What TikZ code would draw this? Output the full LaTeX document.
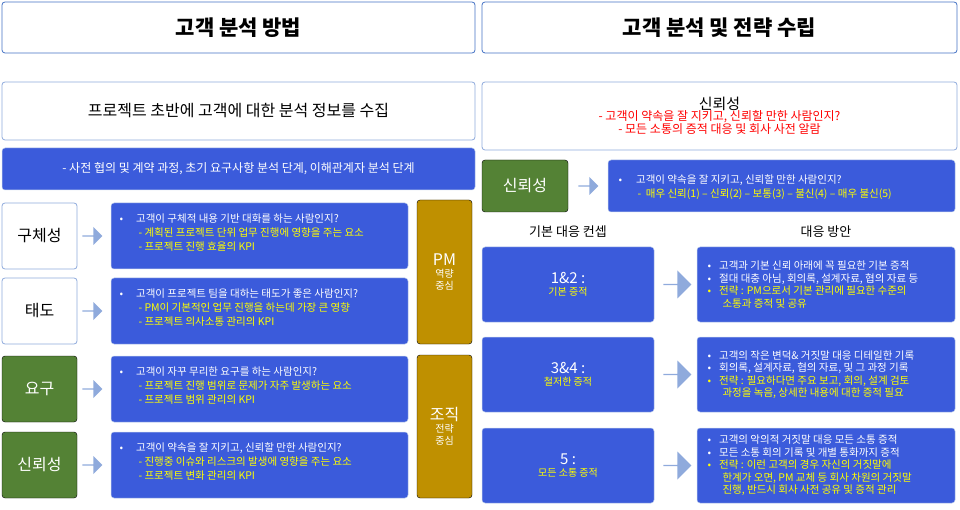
\documentclass[tikz,border=0pt]{standalone}
\usepackage{fontspec}
\setmainfont{Noto Sans CJK KR}
\usetikzlibrary{shapes.arrows}
\definecolor{bb}{HTML}{3B5BDB}
\definecolor{gg}{HTML}{548235}
\definecolor{au}{HTML}{BF9000}
\definecolor{ar}{HTML}{8FAADC}
\definecolor{yl}{HTML}{FFFF00}
\definecolor{hb}{HTML}{4472C4}
\tikzset{
 box/.style={rounded corners=3pt,inner sep=0pt},
 wbox/.style={box,draw=hb,line width=0.8pt,fill=white},
 lbox/.style={box,draw=ar,line width=0.8pt,fill=white},
 bbox/.style={box,fill=bb,draw=ar!60,line width=0.5pt},
 gbox/.style={box,fill=gg},
 abox/.style={box,fill=au},
 arr/.style={single arrow,fill=ar,minimum height=20pt,minimum width=18pt,single arrow head extend=3pt,inner sep=0pt},
 bigarr/.style={single arrow,fill=ar,minimum height=28pt,minimum width=28pt,single arrow head extend=5pt,inner sep=0pt},
 tx/.style={align=left,text=white,font=\fontsize{10.5}{13}\selectfont},
}
\newcommand{\lrow}[8]{%
 \draw[#3] (2,#1) rectangle (77,#1+66);
 \node[text=#4] (L#8) at (39.5,#1+33) {\fontsize{16}{19}\selectfont #2};
 \node[arr] (A#8) at (92,#1+33) {};
 \draw[bbox] (111,#1) rectangle (408,#1+66);
 \node[tx,anchor=north west] (B#8) at (116,#1+7) {•\hspace{13pt}#5\\[1pt]\hspace{19pt}\textcolor{yl}{#6}\\[1pt]\hspace{19pt}\textcolor{yl}{#7}};
}
\newcommand{\rrow}[5]{%
 \draw[bbox] (482,#1) rectangle (654,#1+75);
 \node[text=white,align=center] (K#5) at (568,#1+37.5) {\fontsize{15}{22}\selectfont #2\\\textcolor{yl}{#3}};
 \node[bigarr] (RA#5) at (677,#1+37.5) {};
 \draw[bbox] (697,#1) rectangle (955,#1+75);
 \node[tx,anchor=west,font=\fontsize{10.5}{12.5}\selectfont] (R#5) at (704,#1+37.5) {#4};
}
\newcommand{\bl}{•\hspace{8pt}}
\newcommand{\ys}[1]{\textcolor{yl}{#1}}
\begin{document}
\begin{tikzpicture}[x=1pt,y=-1pt]
\useasboundingbox (0,0) rectangle (960,510);
\draw[wbox] (2,2) rectangle (475,53);
\node (h1) at (238.5,27.5) {\fontsize{21}{24}\selectfont\bfseries 고객 분석 방법};
\draw[wbox] (482,2) rectangle (957,53);
\node (h2) at (719.5,27.5) {\fontsize{21}{24}\selectfont\bfseries 고객 분석 및 전략 수립};
\draw[lbox] (2,82) rectangle (475,140);
\node (s1) at (238.5,111) {\fontsize{16}{19}\selectfont 프로젝트 초반에 고객에 대한 분석 정보를 수집};
\draw[bbox] (2,148) rectangle (475,190);
\node[text=white] (s2) at (238.5,169) {\fontsize{12}{14}\selectfont - 사전 협의 및 계약 과정, 초기 요구사항 분석 단계, 이해관계자 분석 단계};
\lrow{203}{구체성}{lbox}{black}{고객이 구체적 내용 기반 대화를 하는 사람인지?}{- 계획된 프로젝트 단위 업무 진행에 영향을 주는 요소}{- 프로젝트 진행 효율의 KPI}{1}
\lrow{278}{태도}{lbox}{black}{고객이 프로젝트 팀을 대하는 태도가 좋은 사람인지?}{- PM이 기본적인 업무 진행을 하는데 가장 큰 영향}{- 프로젝트 의사소통 관리의 KPI}{2}
\lrow{356}{요구}{gbox}{white}{고객이 자꾸 무리한 요구를 하는 사람인지?}{- 프로젝트 진행 범위로 문제가 자주 발생하는 요소}{- 프로젝트 범위 관리의 KPI}{3}
\lrow{432}{신뢰성}{gbox}{white}{고객이 약속을 잘 지키고, 신뢰할 만한 사람인지?}{- 진행중 이슈와 리스크의 발생에 영향을 주는 요소}{- 프로젝트 변화 관리의 KPI}{4}
\draw[abox] (417,200) rectangle (472,344);
\node[text=white,align=center] (g1) at (444.5,272) {\fontsize{16}{21}\selectfont PM\\역량\\중심};
\draw[abox] (417,355) rectangle (472,498);
\node[text=white,align=center] (g2) at (444.5,426.5) {\fontsize{16}{21}\selectfont 조직\\전략\\중심};
\draw[lbox] (482,82) rectangle (957,150);
\node[align=center] (r1) at (719.5,116) {\fontsize{15}{17}\selectfont 신뢰성\\[-1pt]\fontsize{12}{15}\selectfont\color{red}- 고객이 약속을 잘 지키고, 신뢰할 만한 사람인지?\\\fontsize{12}{15}\selectfont\color{red}- 모든 소통의 증적 대응 및 회사 사전 알람};
\draw[gbox] (482,160) rectangle (568,212);
\node[text=white] (r2) at (525,186) {\fontsize{16}{19}\selectfont 신뢰성};
\node[arr] (ra) at (588,186) {};
\draw[bbox] (608,160) rectangle (955,212);
\node[tx,anchor=north west] (r3) at (615,171) {•\hspace{14pt}고객이 약속을 잘 지키고, 신뢰할 만한 사람인지?\\[1pt]\hspace{19pt}\ys{-\ \ 매우 신뢰(1) – 신뢰(2) – 보통(3) – 불신(4) – 매우 불신(5)}};
\node (c1) at (568,232) {\fontsize{13}{15}\selectfont 기본 대응 컨셉};
\node (c2) at (826,232) {\fontsize{13}{15}\selectfont 대응 방안};
\rrow{247}{1\&2 :}{기본 증적}{\bl 고객과 기본 신뢰 아래에 꼭 필요한 기본 증적\\\bl 절대 대충 아님, 회의록, 설계자료, 협의 자료 등\\\ys{\bl 전략 : PM으로서 기본 관리에 필요한 수준의}\\\ys{\hspace{15pt}소통과 증적 및 공유}}{1}
\rrow{337}{3\&4 :}{철저한 증적}{\bl 고객의 작은 변덕\& 거짓말 대응 디테일한 기록\\\bl 회의록, 설계자료, 협의 자료, 및 그 과정 기록\\\ys{\bl 전략 : 필요하다면 주요 보고, 회의, 설계 검토}\\\ys{\hspace{15pt}과정을 녹음, 상세한 내용에 대한 증적 필요}}{2}
\rrow{428}{5 :}{모든 소통 증적}{\bl 고객의 악의적 거짓말 대응 모든 소통 증적\\\bl 모든 소통 회의 기록 및 개별 통화까지 증적\\\ys{\bl 전략 : 이런 고객의 경우 자신의 거짓말에}\\\ys{\hspace{15pt}한계가 오면, PM 교체 등 회사 차원의 거짓말}\\\ys{\hspace{15pt}진행, 반드시 회사 사전 공유 및 증적 관리}}{3}
\end{tikzpicture}
\end{document}
